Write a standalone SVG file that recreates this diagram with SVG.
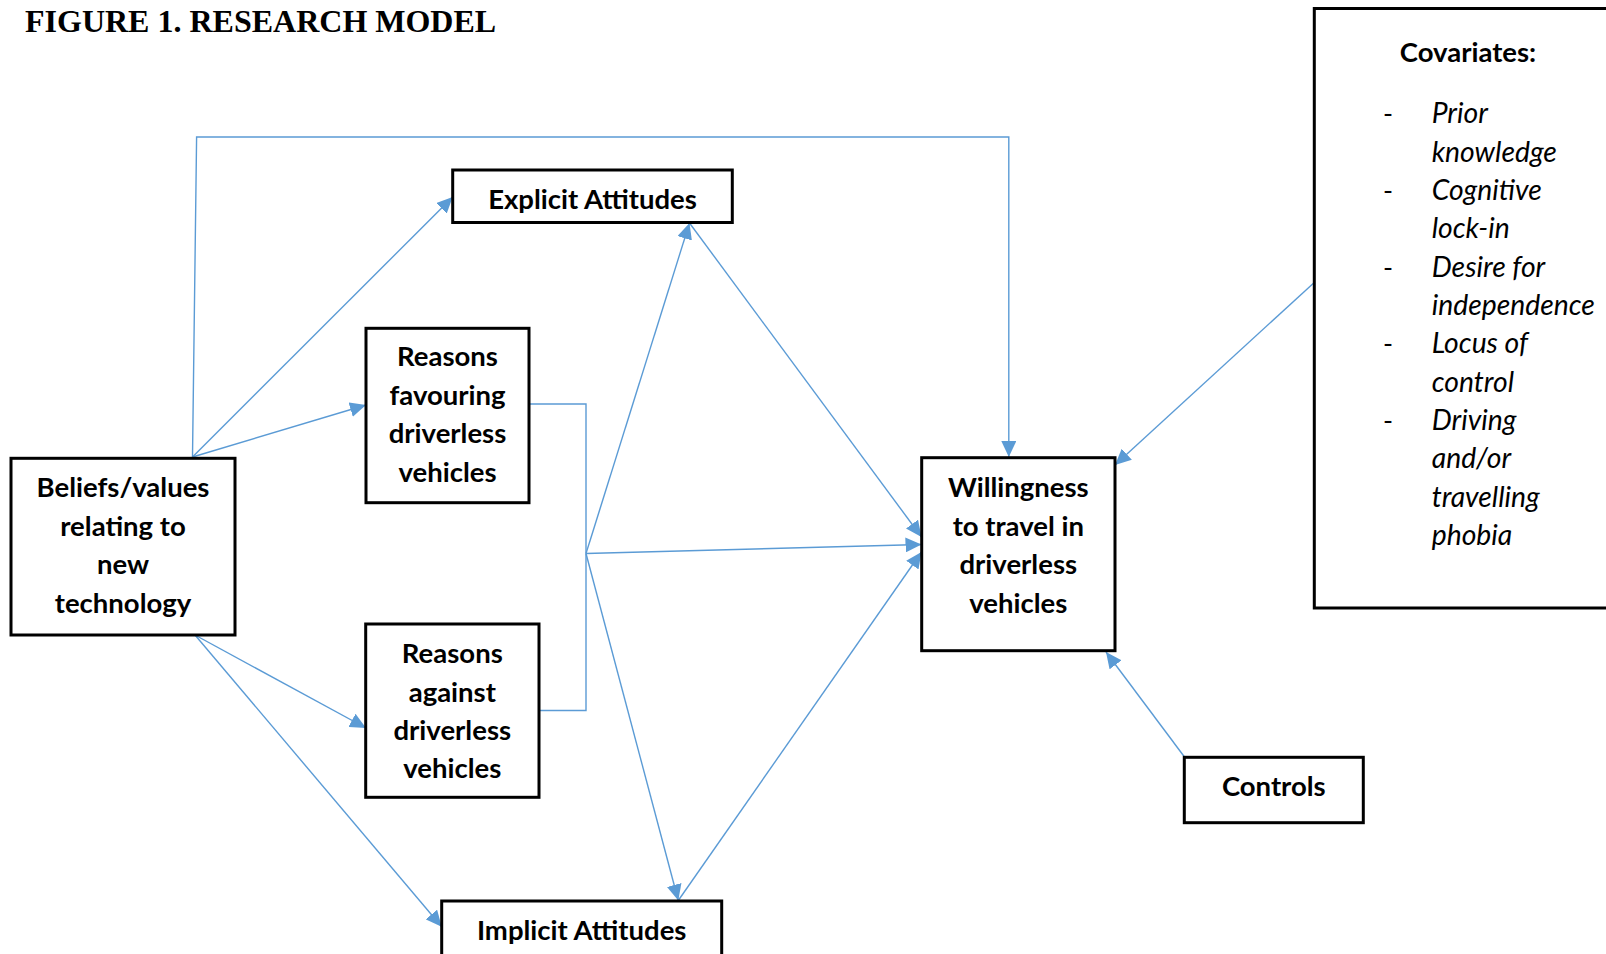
<svg xmlns="http://www.w3.org/2000/svg" width="1606" height="954" viewBox="0 0 1606 954">
<style>
.box{fill:#fff;stroke:#000;stroke-width:3}
.lbl{font-family:Lato,"Open Sans","Liberation Sans",sans-serif;font-weight:700;font-size:27.5px;fill:#000;text-anchor:middle}
.it{font-family:Lato,"Open Sans","Liberation Sans",sans-serif;font-style:italic;font-size:28.3px;fill:#000}
.dash{font-family:Lato,"Liberation Sans",sans-serif;font-size:27px;fill:#000}
.c{fill:none;stroke:#5B9BD5;stroke-width:1.4}
.a{marker-end:url(#ah)}
</style>
<defs>
<marker id="ah" markerUnits="userSpaceOnUse" markerWidth="17" markerHeight="15" refX="16" refY="7.5" orient="auto">
<path d="M0,0 L16,7.5 L0,15 Z" fill="#5B9BD5"/>
</marker>
</defs>
<rect width="1606" height="954" fill="#fff"/>
<text x="25" y="32" font-family="'Liberation Serif','Times New Roman',serif" font-weight="700" font-size="32">FIGURE 1. RESEARCH MODEL</text>

<g id="connectors">
<polyline class="c a" points="192.5,457 196.6,137 1008.8,137 1008.8,457"/>
<line class="c a" x1="192.5" y1="457" x2="452.7" y2="197"/>
<line class="c a" x1="192.5" y1="457" x2="366" y2="405"/>
<line class="c a" x1="195" y1="635" x2="366" y2="728"/>
<line class="c a" x1="195" y1="635" x2="441.7" y2="926.7"/>
<polyline class="c" points="529,404 586,404 586,710.5 539,710.5"/>
<line class="c a" x1="586" y1="553.5" x2="689.5" y2="223"/>
<line class="c a" x1="586" y1="553.5" x2="921.5" y2="544.5"/>
<line class="c a" x1="586" y1="553.5" x2="678.3" y2="900.5"/>
<line class="c a" x1="689.5" y1="223" x2="921.5" y2="537"/>
<line class="c a" x1="678.3" y1="900.5" x2="921.5" y2="552"/>
<line class="c a" x1="1314" y1="282.7" x2="1115" y2="465"/>
<line class="c a" x1="1184.5" y1="757" x2="1106" y2="652"/>
</g>

<g id="beliefs">
<rect class="box" x="11" y="458.3" width="224" height="176.7"/>
<text class="lbl" x="123" y="496.7">Beliefs/values</text>
<text class="lbl" x="123" y="536">relating to</text>
<text class="lbl" x="123" y="574.3">new</text>
<text class="lbl" x="123" y="612.7">technology</text>
</g>

<g id="explicit">
<rect class="box" x="452.7" y="170" width="279.6" height="52.5"/>
<text class="lbl" x="592.5" y="208.5">Explicit Attitudes</text>
</g>

<g id="favouring">
<rect class="box" x="366" y="328.3" width="163" height="174.4"/>
<text class="lbl" x="447.5" y="366">Reasons</text>
<text class="lbl" x="447.5" y="405">favouring</text>
<text class="lbl" x="447.5" y="443.3">driverless</text>
<text class="lbl" x="447.5" y="481.7">vehicles</text>
</g>

<g id="against">
<rect class="box" x="365.7" y="624" width="173.3" height="173.3"/>
<text class="lbl" x="452.3" y="663.3">Reasons</text>
<text class="lbl" x="452.3" y="701.7">against</text>
<text class="lbl" x="452.3" y="740">driverless</text>
<text class="lbl" x="452.3" y="778.3">vehicles</text>
</g>

<g id="implicit">
<rect class="box" x="441.7" y="901" width="280" height="70"/>
<text class="lbl" x="581.7" y="940">Implicit Attitudes</text>
</g>

<g id="willingness">
<rect class="box" x="921.7" y="457.7" width="193.3" height="193"/>
<text class="lbl" x="1018.3" y="497.3">Willingness</text>
<text class="lbl" x="1018.3" y="536">to travel in</text>
<text class="lbl" x="1018.3" y="574">driverless</text>
<text class="lbl" x="1018.3" y="612.7">vehicles</text>
</g>

<g id="controls">
<rect class="box" x="1184.3" y="757.3" width="179" height="65.4"/>
<text class="lbl" x="1273.8" y="796">Controls</text>
</g>

<g id="covariates">
<rect class="box" x="1314.3" y="8.5" width="310" height="599.5"/>
<text class="lbl" x="1468" y="61.7">Covariates:</text>
<text class="dash" x="1383" y="123.3">-</text>
<text class="it" x="1431.7" y="123.3">Prior</text>
<text class="it" x="1431.7" y="161.7">knowledge</text>
<text class="dash" x="1383" y="200">-</text>
<text class="it" x="1431.7" y="200">Cognitive</text>
<text class="it" x="1431.7" y="238.3">lock-in</text>
<text class="dash" x="1383" y="276.7">-</text>
<text class="it" x="1431.7" y="276.7">Desire for</text>
<text class="it" x="1431.7" y="315">independence</text>
<text class="dash" x="1383" y="353.3">-</text>
<text class="it" x="1431.7" y="353.3">Locus of</text>
<text class="it" x="1431.7" y="391.7">control</text>
<text class="dash" x="1383" y="430">-</text>
<text class="it" x="1431.7" y="430">Driving</text>
<text class="it" x="1431.7" y="468.3">and/or</text>
<text class="it" x="1431.7" y="506.7">travelling</text>
<text class="it" x="1431.7" y="545">phobia</text>
</g>
</svg>
